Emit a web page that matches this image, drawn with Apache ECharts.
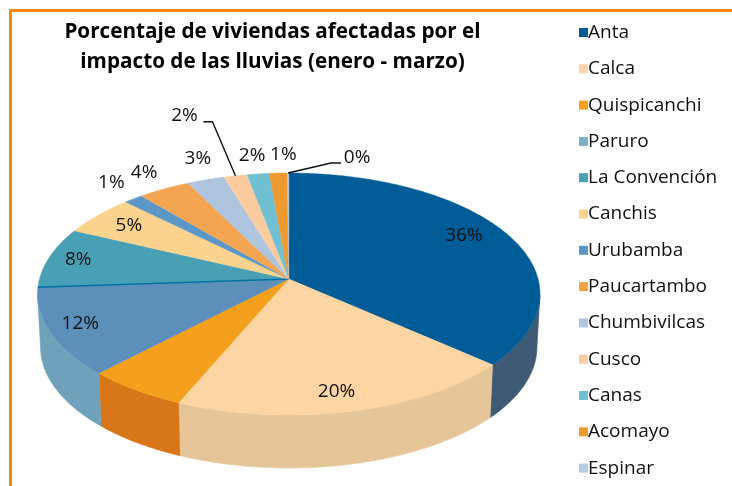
<!DOCTYPE html>
<html><head><meta charset="utf-8">
<style>html,body{margin:0;padding:0;background:#fff}#c{width:732px;height:486px}</style>
<script src="https://cdn.jsdelivr.net/npm/echarts@6/dist/echarts.min.js"></script>
</head><body><div id="c"></div>
<script>
// Data
const categories = ['Anta','Calca','Quispicanchi','Paruro','La Convención','Canchis','Urubamba','Paucartambo','Chumbivilcas','Cusco','Canas','Acomayo','Espinar'];
const values = [36.49,19.91,5.8,11.7,8.1,5.4,1.4,3.8,2.7,1.7,1.6,1.3,0.1];
const hiddenLabels = ['Quispicanchi'];
const titleText = 'Porcentaje de viviendas afectadas por el\nimpacto de las lluvias (enero - marzo)';

// Styles
const legendColors = ['#005c96','#fcd6a6','#f4a01c','#7fafc8','#48a0b5','#fbd38e','#5b98c8','#f4a24a','#afc4de','#facc9f','#70bfd3','#ef9a30','#b8cbe0'];
const topColors = ['#005c96','#fcd5a3','#f4a01c','#5c90ba','#48a0b5','#fbd38e','#5b98c8','#f4a552','#afc4de','#facc9f','#70bfd3','#ef9a30','#b8cbe0'];
const wallColors = ['#3e5a74','#e6c699','#d87717','#6fa2ba','#3a8090','#c8a870','#4a7aa0','#c4843c','#8c9db2','#c8a37f','#5a99a9','#bf7b26','#93a2b3'];
const fontFamily = '"Open Sans","Noto Sans",sans-serif';

// Layout of the projected disc
const disc = {cx:288.75, cy:294, rx:251.25, ry:121, tilt:-0.124, depth:53, baseScale:0.988};
// Label offset from the rim point at each slice's middle angle
const labelOffsets = [[-41,3],[-15,-20],[0,0],[30,-9],[29,2],[31,10],[-22,-16],[-20,-16],[-8,-21],[-51,-60],[-6,-18],[5,-19],[69,-15]];
// Leader elbows relative to the rim point
const leaders = {9:[[-23,-54],[-32,-54]], 12:[[43,-10],[53,-10]]};
const seamIndex = 4;

const total = values.reduce((a,b)=>a+b,0);
function unit(frac){
  const phi = frac*2*Math.PI, x = Math.sin(phi), y = -Math.cos(phi), b = disc.tilt;
  const d = 1 + b*y;
  return [x*Math.sqrt(1-b*b)/d, (y+b)/d];
}
const topPt = p => [disc.cx + disc.rx*p[0], disc.cy + disc.ry*p[1]];
const basePt = p => [disc.cx + disc.rx*disc.baseScale*p[0], disc.cy + disc.depth + disc.ry*p[1]];
const apex = topPt([0, disc.tilt]);

function renderSlice(i){
  return function(params, api){
    const v = api.value(0);
    let before = 0; for(let k=0;k<i;k++) before += values[k];
    const f0 = before/total, f1 = (before+v)/total;
    const steps = Math.max(2, Math.ceil((f1-f0)*720));
    const rim = [];
    for(let s=0;s<=steps;s++) rim.push(unit(f0+(f1-f0)*s/steps));
    const children = [];
    const front = rim.filter(p=>p[1]>=0);
    if(front.length>1){
      children.push({type:'polygon',silent:true,shape:{points:front.map(topPt).concat(front.slice().reverse().map(basePt))},
        style:{fill:wallColors[i],stroke:wallColors[i],lineWidth:0.5}});
    }
    children.push({type:'polygon',silent:true,shape:{points:[apex].concat(rim.map(topPt))},
      style:{fill:topColors[i],stroke:topColors[i],lineWidth:0.4}});
    if(i===seamIndex){
      children.push({type:'line',silent:true,shape:{x1:apex[0],y1:apex[1],x2:topPt(rim[0])[0],y2:topPt(rim[0])[1]},
        style:{stroke:'#0272a5',lineWidth:1.6}});
    }
    const mid = topPt(unit((f0+f1)/2));
    if(leaders[i]){
      const pts=[mid].concat(leaders[i].map(o=>[mid[0]+o[0],mid[1]+o[1]]));
      children.push({type:'polyline',silent:true,shape:{points:pts},style:{stroke:'#111',lineWidth:1.4,fill:'none'}});
    }
    if(hiddenLabels.indexOf(categories[i])<0){
      const o = labelOffsets[i];
      children.push({type:'text',silent:true,style:{text:Math.round(v)+'%',x:mid[0]+o[0],y:mid[1]+o[1],
        align:'center',verticalAlign:'middle',fontSize:19,fontFamily:fontFamily,fill:'#111'}});
    }
    return {type:'group',children:children};
  };
}

const chart = echarts.init(document.getElementById('c'),null,{renderer:'canvas'});
chart.setOption({
  animation:false,
  backgroundColor:'#fff',
  title:{text:titleText,left:267.5,top:12,textAlign:'center',
    textStyle:{fontFamily:fontFamily,fontWeight:700,fontSize:20.7,lineHeight:30,color:'#000'}},
  legend:{orient:'vertical',left:574,top:18,height:468,itemWidth:9,itemHeight:9,itemGap:17.3,selectedMode:false,icon:'rect',
    data:categories,
    textStyle:{fontFamily:fontFamily,fontSize:19,color:'#111',padding:[0,0,0,-5]}},
  graphic:[
    {type:'rect',silent:true,shape:{x:9,y:9,width:723,height:3},style:{fill:'#f7860f'}},
    {type:'rect',silent:true,shape:{x:9,y:9,width:3,height:477},style:{fill:'#f7860f'}}
  ],
  series:categories.map((name,i)=>({
    type:'custom',name:name,coordinateSystem:'none',silent:true,
    itemStyle:{color:legendColors[i]},
    data:[[values[i]]],
    renderItem:renderSlice(i)
  }))
});
</script></body></html>
